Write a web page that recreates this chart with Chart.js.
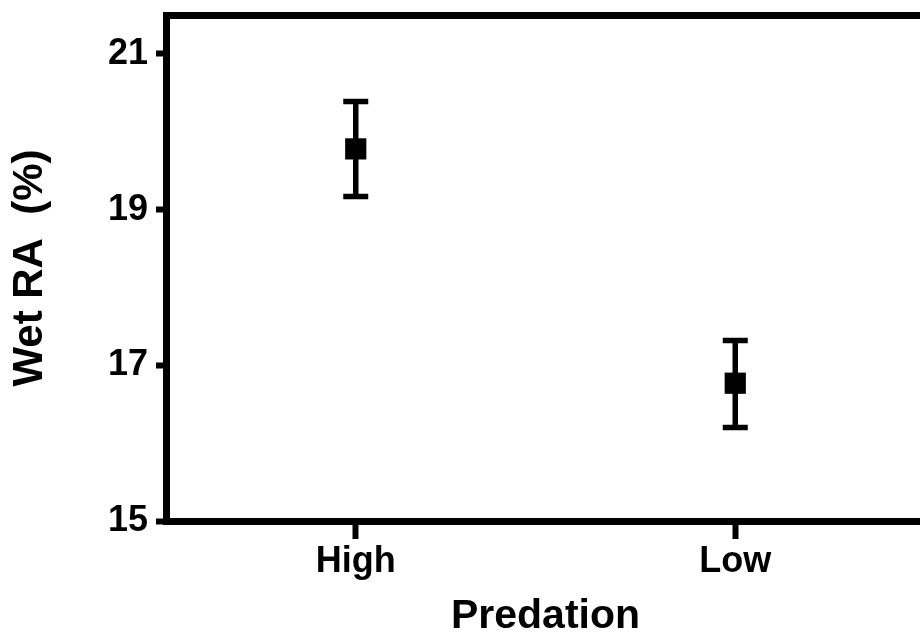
<!DOCTYPE html>
<html>
<head>
<meta charset="utf-8">
<script src="https://cdn.jsdelivr.net/npm/chart.js@4/dist/chart.umd.min.js"></script>
<style>
  html, body { margin: 0; padding: 0; background: #fff; overflow: hidden; }
  #wrap { width: 940px; height: 641px; }
</style>
</head>
<body>
<div id="wrap"><canvas id="raChart" width="940" height="641"></canvas></div>
<script>
// data
const groups = ['High', 'Low'];
const meanRA = [19.78, 16.77];
const upperRA = [20.39, 17.32];
const lowerRA = [19.17, 16.20];
const yTicks = [15, 17, 19, 21];

const FONT = "'Liberation Sans', Arial, Helvetica, sans-serif";

// whiskers with caps, drawn under the square markers
const errorBars = {
    id: 'errorBars',
    beforeDatasetsDraw(chart) {
        const ctx = chart.ctx;
        const x = chart.scales.x;
        const y = chart.scales.y;
        ctx.save();
        ctx.strokeStyle = '#000';
        ctx.lineCap = 'butt';
        groups.forEach((g, i) => {
            const px = x.getPixelForValue(i);
            const top = y.getPixelForValue(upperRA[i]);
            const bot = y.getPixelForValue(lowerRA[i]);
            ctx.lineWidth = 5.5;
            ctx.beginPath();
            ctx.moveTo(px, top);
            ctx.lineTo(px, bot);
            ctx.stroke();
            ctx.beginPath();
            ctx.moveTo(px - 12.5, top);
            ctx.lineTo(px + 12.5, top);
            ctx.moveTo(px - 12.5, bot);
            ctx.lineTo(px + 12.5, bot);
            ctx.stroke();
        });
        ctx.restore();
    }
};

// closed box round the plot area
const frame = {
    id: 'frame',
    afterDraw(chart) {
        const a = chart.chartArea;
        const ctx = chart.ctx;
        ctx.save();
        ctx.strokeStyle = '#000';
        ctx.lineWidth = 7;
        ctx.lineJoin = 'miter';
        ctx.strokeRect(a.left + 0.5, a.top + 0.5, a.right - a.left, a.bottom - a.top);
        ctx.restore();
    }
};

const whiteBg = {
    id: 'whiteBg',
    beforeDraw(chart) {
        const ctx = chart.ctx;
        ctx.save();
        ctx.fillStyle = '#fff';
        ctx.fillRect(0, 0, chart.width, chart.height);
        ctx.restore();
    }
};

new Chart(document.getElementById('raChart'), {
    type: 'line',
    data: {
        labels: groups,
        datasets: [{
            label: 'Wet RA',
            data: meanRA,
            showLine: false,
            pointStyle: 'rect',
            pointRadius: 15,
            pointHoverRadius: 15,
            pointBackgroundColor: '#000',
            pointBorderColor: '#000',
            pointBorderWidth: 0
        }]
    },
    options: {
        responsive: false,
        animation: false,
        layout: { padding: { top: 12, right: 10, left: 0, bottom: 0 } },
        plugins: {
            legend: { display: false },
            tooltip: { enabled: false }
        },
        scales: {
            x: {
                type: 'category',
                offset: true,
                afterFit(s) { s.height = 120; s.paddingLeft = 0; s.paddingRight = 0; },
                grid: {
                    display: true,
                    drawOnChartArea: false,
                    offset: false,
                    tickLength: 18,
                    tickWidth: 6,
                    tickColor: '#000'
                },
                border: { display: true, width: 7, color: '#000' },
                ticks: {
                    color: '#000',
                    padding: 1,
                    font: { family: FONT, size: 36, weight: 'bold' }
                },
                title: {
                    display: true,
                    text: 'Predation',
                    color: '#000',
                    padding: { top: 0, bottom: 0 },
                    font: { family: FONT, size: 41, weight: 'bold' }
                }
            },
            y: {
                min: 15,
                max: 21.5,
                afterBuildTicks(s) { s.ticks = yTicks.map(v => ({ value: v })); },
                afterFit(s) { s.width = 166; s.paddingTop = 0; s.paddingBottom = 0; },
                grid: {
                    display: true,
                    drawOnChartArea: false,
                    tickLength: 10,
                    tickWidth: 6,
                    tickColor: '#000'
                },
                border: { display: true, width: 7, color: '#000' },
                ticks: {
                    color: '#000',
                    padding: 8,
                    font: { family: FONT, size: 36, weight: 'bold' }
                },
                title: {
                    display: true,
                    text: 'Wet RA  (%)',
                    color: '#000',
                    padding: { top: 5, bottom: 0 },
                    font: { family: FONT, size: 42, weight: 'bold' }
                }
            }
        }
    },
    plugins: [whiteBg, errorBars, frame]
});
</script>
</body>
</html>
